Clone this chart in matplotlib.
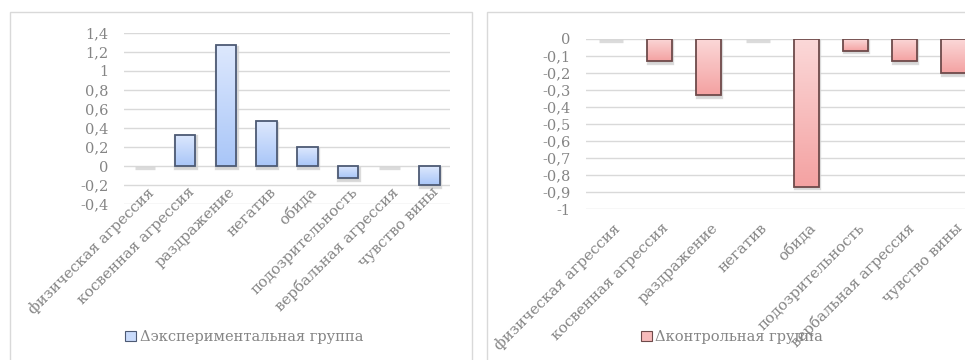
"""Two bar charts of score changes by aggression subscale."""
import numpy as np
import matplotlib
matplotlib.use("Agg")
import matplotlib.pyplot as plt
import matplotlib.patches as mpatches
from matplotlib.colors import LinearSegmentedColormap
from matplotlib.ticker import FuncFormatter
from matplotlib.transforms import offset_copy

categories = ["физическая агрессия", "косвенная агрессия", "раздражение", "негатив",
              "обида", "подозрительность", "вербальная агрессия", "чувство вины"]
exp_delta = [0.0, 0.33, 1.27, 0.47, 0.2, -0.13, 0.0, -0.2]
ctrl_delta = [0.0, -0.13, -0.33, 0.0, -0.87, -0.07, -0.13, -0.2]
exp_label = "\u0394экспериментальная группа"
ctrl_label = "\u0394контрольная группа"
exp_ticks = [-0.4, -0.2, 0, 0.2, 0.4, 0.6, 0.8, 1, 1.2, 1.4]
ctrl_ticks = [-1, -0.9, -0.8, -0.7, -0.6, -0.5, -0.4, -0.3, -0.2, -0.1, 0]

TEXT = "#858585"
GRID = "#d9d9d9"
FONT = "DejaVu Serif"

BLUE = LinearSegmentedColormap.from_list("blue", ["#a9c6f8", "#dde8fd"])
RED = LinearSegmentedColormap.from_list("red", ["#f4a2a2", "#fbd8d8"])


def comma(v, _pos):
    s = f"{v:.1f}".rstrip("0").rstrip(".")
    if s == "-0":
        s = "0"
    return s.replace(".", ",")


def draw_panel(fig, rect, values, ticks, cmap, edge, legend_face, label,
               label_dy, legend_xy):
    ax = fig.add_axes(rect)
    x = np.arange(len(values))
    ax.set_yticks(ticks)
    ax.yaxis.set_major_formatter(FuncFormatter(comma))
    ax.tick_params(axis="y", length=0, pad=11, labelcolor=TEXT, labelsize=10.5)
    for t in ax.get_yticklabels():
        t.set_family(FONT)
    ax.set_xticks([])
    for s in ax.spines.values():
        s.set_visible(False)
    ax.grid(axis="y", color=GRID, linewidth=1)
    ax.set_axisbelow(True)

    # faint drop shadow under every bar (also the only trace of zero bars)
    shadow_tr = offset_copy(ax.transData, fig=fig, x=0.5, y=-1.5, units="dots")
    ax.bar(x, values, 0.5, color="#d0d0d0", edgecolor="#d0d0d0", linewidth=2.4,
           alpha=0.75, transform=shadow_tr, zorder=2)

    lw = [1.3 if v != 0 else 0 for v in values]
    bars = ax.bar(x, values, 0.5, color="none", edgecolor=edge, linewidth=lw,
                  zorder=4)
    grad = np.linspace(0, 1, 100).reshape(-1, 1)
    for b, v in zip(bars, values):
        if v == 0:
            continue
        x0, y0 = b.get_x(), min(0, v)
        im = ax.imshow(grad, cmap=cmap, origin="lower", aspect="auto",
                       extent=(x0, x0 + b.get_width(), y0, y0 + abs(v)),
                       zorder=3)
        im.set_clip_path(b)
    ax.set_xlim(-0.5, len(values) - 0.5)
    ax.set_ylim(ticks[0], ticks[-1])

    for i, name in enumerate(categories):
        ax.annotate(name, xy=(i, 0), xycoords=("data", "axes fraction"),
                    xytext=(2, label_dy), textcoords="offset pixels",
                    ha="right", va="top", rotation=45, rotation_mode="anchor",
                    fontsize=10.8, color=TEXT, family=FONT, annotation_clip=False)

    handle = mpatches.Patch(facecolor=legend_face, edgecolor=edge, linewidth=0.8,
                            label=label)
    fig.legend(handles=[handle], loc="center", bbox_to_anchor=legend_xy,
               frameon=False, handlelength=0.75, handleheight=0.75,
               handletextpad=0.25, prop={"family": FONT, "size": 10.5},
               labelcolor=TEXT)
    return ax


W, H = 965, 360
fig = plt.figure(figsize=(W / 100, H / 100), dpi=100, facecolor="white")

# chart frames
fig.patches.append(mpatches.Rectangle((10 / W, -0.05), 462 / W, 1.05 - 12 / H,
                                      transform=fig.transFigure, fill=False,
                                      edgecolor=GRID, linewidth=1))
fig.patches.append(mpatches.Rectangle((487 / W, -0.05), 0.6, 1.05 - 12 / H,
                                      transform=fig.transFigure, fill=False,
                                      edgecolor=GRID, linewidth=1))

draw_panel(fig, [124 / W, 1 - 204 / H, 326 / W, 171 / H], exp_delta, exp_ticks,
           BLUE, "#4d5a74", "#c9dbfb", exp_label, 19, (244 / W, 1 - 337 / H))
draw_panel(fig, [586 / W, 1 - 209 / H, 392 / W, 170 / H], ctrl_delta, ctrl_ticks,
           RED, "#6e4a4a", "#f7baba", ctrl_label, -12, (732 / W, 1 - 337 / H))

fig.savefig("out.png", dpi=100, facecolor="white")
